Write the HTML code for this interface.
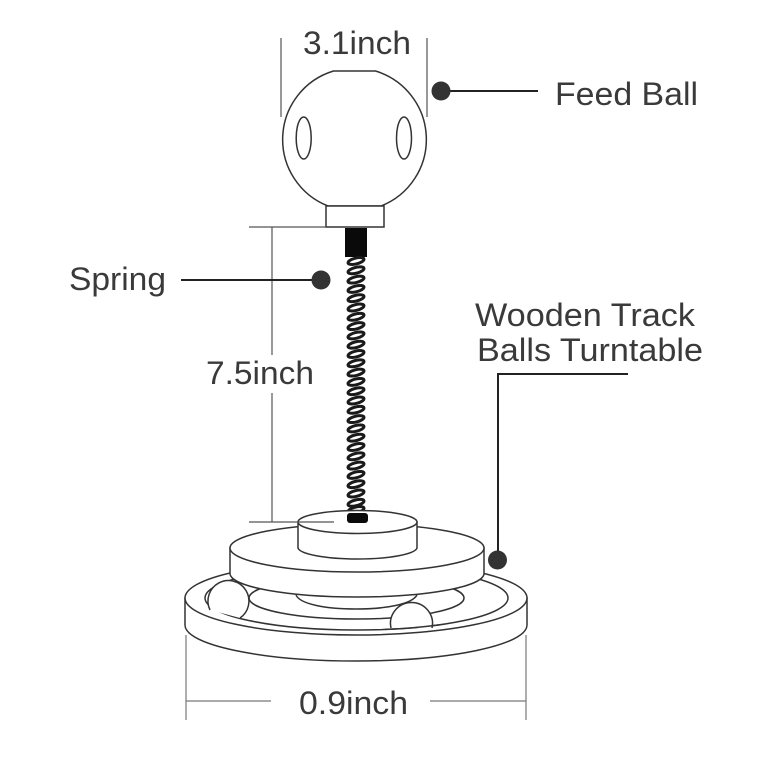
<!DOCTYPE html>
<html>
<head>
<meta charset="utf-8">
<style>
html,body{margin:0;padding:0;background:#fff;width:759px;height:759px;overflow:hidden}
svg{display:block}
text{font-family:"Liberation Sans",sans-serif;font-size:32px;fill:#3a3a3a}
</style>
</head>
<body>
<svg width="759" height="759" viewBox="0 0 759 759" xmlns="http://www.w3.org/2000/svg">
<defs>
<ellipse id="c" cx="356" cy="0" rx="8.200" ry="2.900" transform="rotate(-14 356 0)" fill="none" stroke="#1a1a1a" stroke-width="3"/>
</defs>
<rect width="759" height="759" fill="#fff"/>

<!-- Feed ball -->
<g fill="#fff" stroke="#333" stroke-width="1.500">
<path d="M333.500 71 H375.500 A71.500 71.500 0 0 1 381 206 H328 A71.500 71.500 0 0 1 333.500 71 Z"/>
<rect x="326" y="206" width="58" height="21"/>
<ellipse cx="303.700" cy="138" rx="7.500" ry="21"/>
<ellipse cx="404" cy="138" rx="7.500" ry="21"/>
</g>
<rect x="345" y="228" width="22" height="29" fill="#0a0a0a"/>

<!-- Spring -->
<g>
<use href="#c" y="261"/><use href="#c" y="270.300"/><use href="#c" y="279.600"/><use href="#c" y="288.900"/>
<use href="#c" y="298.200"/><use href="#c" y="307.500"/><use href="#c" y="316.800"/><use href="#c" y="326.100"/>
<use href="#c" y="335.400"/><use href="#c" y="344.700"/><use href="#c" y="354"/><use href="#c" y="363.300"/>
<use href="#c" y="372.600"/><use href="#c" y="381.900"/><use href="#c" y="391.200"/><use href="#c" y="400.500"/>
<use href="#c" y="409.800"/><use href="#c" y="419.100"/><use href="#c" y="428.400"/><use href="#c" y="437.700"/>
<use href="#c" y="447"/><use href="#c" y="456.300"/><use href="#c" y="465.600"/><use href="#c" y="474.900"/>
<use href="#c" y="484.200"/><use href="#c" y="493.500"/><use href="#c" y="502.800"/><use href="#c" y="510"/>
</g>

<!-- Base -->
<g fill="#fff" stroke="#333" stroke-width="1.500">
<path d="M185 598 V625 C185 645 262 661 356 661 C450 661 527 645 527 625 V598 Z"/>
<ellipse cx="356" cy="598" rx="171" ry="37"/>
<ellipse cx="356.500" cy="598" rx="151.500" ry="32"/>
<ellipse cx="356.500" cy="598" rx="107.500" ry="21"/>
<path d="M296 595 C300 604 325 609 356 609 C387 609 412 604 417 595" fill="none"/>
<path d="M240 618 A20.500 20.500 0 1 0 210 610"/>
<path d="M391 628 A21 21 0 1 1 432 628"/>
<path d="M385 629.400 A151.500 32 0 0 0 440 624.700" fill="none"/>
</g>

<!-- Middle disc -->
<g fill="#fff" stroke="#333" stroke-width="1.500">
<path d="M230 548 V574 C232 587 288 597 357 597 C426 597 482 587 484 574 V548 Z"/>
<ellipse cx="357" cy="548" rx="127" ry="24"/>
</g>
<!-- Top disc -->
<g fill="#fff" stroke="#333" stroke-width="1.500">
<path d="M298 522 V548 C300 554 325 559 357.500 559 C390 559 415 554 417 548 V522 Z"/>
<ellipse cx="357.500" cy="522" rx="59.500" ry="11.500"/>
</g>
<rect x="347" y="513" width="21" height="10" rx="3" fill="#0a0a0a"/>

<!-- Dimension lines -->
<g stroke="#555" stroke-width="1.200" fill="none">
<path d="M281 38 V117 M427 38 V117"/>
<path d="M249 227 H326 M272 227 V355 M272 393 V522 M249 522 H334"/>
</g>
<g stroke="#999" stroke-width="1.600" fill="none">
<path d="M186 635 V720 M526 635 V720"/>
<path d="M186 701 H271 M430 701 H526" stroke="#777" stroke-width="1.200"/>
</g>

<!-- Callouts -->
<g stroke="#222" stroke-width="2" fill="none">
<path d="M441 91 H538"/>
<path d="M181 280 H321"/>
<path d="M628 374 H498 V560"/>
</g>
<circle cx="441" cy="91" r="9.500" fill="#333"/>
<circle cx="321" cy="280" r="9.500" fill="#333"/>
<circle cx="497.500" cy="560" r="9.500" fill="#333"/>

<!-- Labels -->
<text x="303" y="54" textLength="108" lengthAdjust="spacingAndGlyphs">3.1inch</text>
<text x="555" y="105" textLength="143" lengthAdjust="spacingAndGlyphs">Feed Ball</text>
<text x="69" y="290" textLength="97" lengthAdjust="spacingAndGlyphs">Spring</text>
<text x="475" y="326" textLength="220" lengthAdjust="spacingAndGlyphs">Wooden Track</text>
<text x="477" y="361" textLength="226" lengthAdjust="spacingAndGlyphs">Balls Turntable</text>
<text x="206" y="384" textLength="108" lengthAdjust="spacingAndGlyphs">7.5inch</text>
<text x="299" y="714" textLength="109" lengthAdjust="spacingAndGlyphs">0.9inch</text>
</svg>
</body>
</html>
